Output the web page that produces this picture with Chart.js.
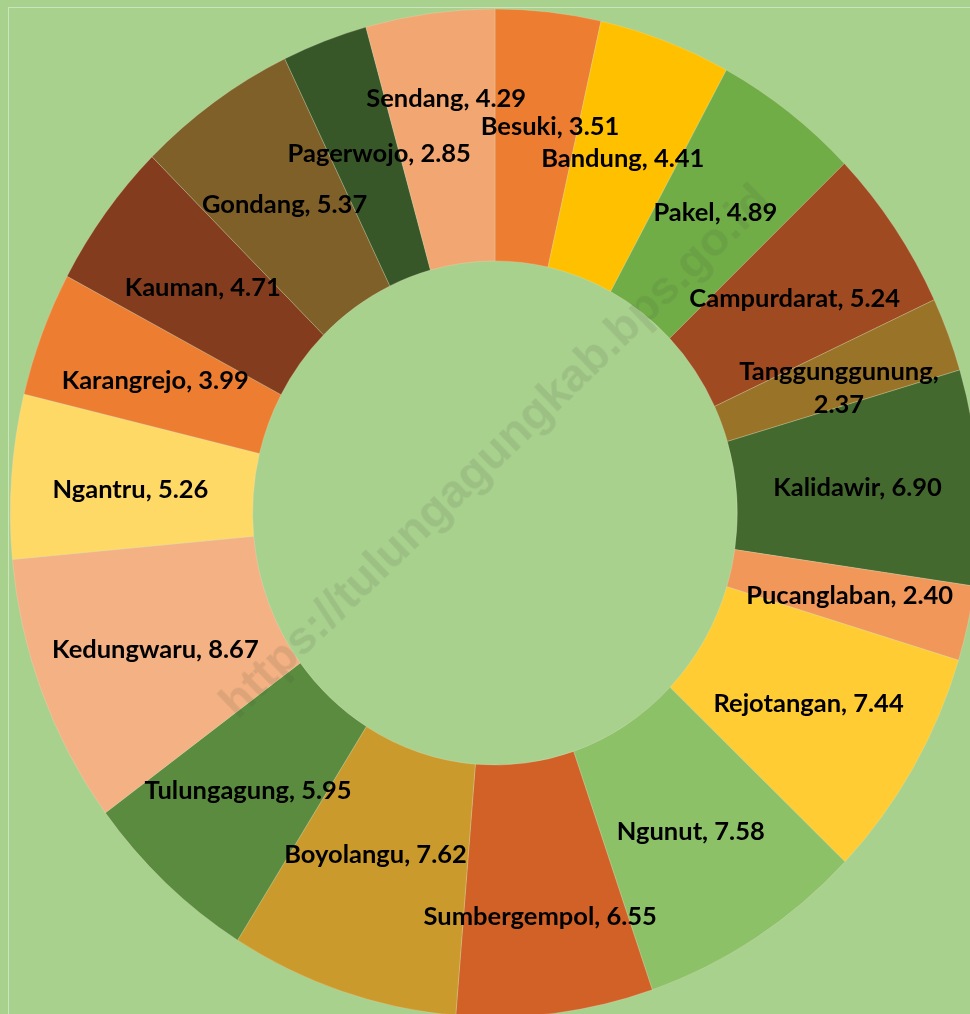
<!DOCTYPE html>
<html>
<head>
<meta charset="utf-8">
<script src="https://cdn.jsdelivr.net/npm/chart.js@4.4.1/dist/chart.umd.min.js"></script>
<style>
  html, body { margin: 0; padding: 0; width: 970px; height: 1014px; overflow: hidden; background: #A9D18E; }
  #wrap { position: relative; width: 970px; height: 1014px; overflow: hidden; }
  #frame { position: absolute; left: 8px; top: 7px; width: 2000px; height: 2000px; border-left: 1px solid #CDE4C0; border-top: 1px solid #CDE4C0; z-index: 0; }
  #c { position: absolute; left: 0; top: 0; z-index: 1; }
  #wm { position: absolute; left: 494px; top: 450px; z-index: 2; transform: translate(-50%, -50%) rotate(-44deg);
        font-family: "Liberation Sans", Arial, sans-serif; font-weight: bold; font-size: 47px; white-space: nowrap;
        color: rgba(70, 75, 55, 0.13); pointer-events: none; }
</style>
</head>
<body>
<div id="wrap">
  <div id="frame"></div>
  <canvas id="c" width="980" height="1014"></canvas>
  <div id="wm">https://tulungagungkab.bps.go.id</div>
</div>
<script>
// ---- data ----
const categories = ["Besuki", "Bandung", "Pakel", "Campurdarat", "Tanggunggunung", "Kalidawir",
  "Pucanglaban", "Rejotangan", "Ngunut", "Sumbergempol", "Boyolangu", "Tulungagung",
  "Kedungwaru", "Ngantru", "Karangrejo", "Kauman", "Gondang", "Pagerwojo", "Sendang"];
const values = [3.51, 4.41, 4.89, 5.24, 2.37, 6.90, 2.40, 7.44, 7.58, 6.55, 7.62, 5.95,
  8.67, 5.26, 3.99, 4.71, 5.37, 2.85, 4.29];
const colors = ["#ED7D31", "#FFC000", "#70AD47", "#A04A22", "#997328", "#44692F",
  "#F1975A", "#FFCD33", "#8CC168", "#D26127", "#CA9A2C", "#5A8B3E",
  "#F4B183", "#FFD966", "#ED7D31", "#843C1E", "#7F6028", "#385729", "#F2A772"];

// ---- label placement tweaks (Excel moves some labels to avoid overlaps) ----
const labelNudge = {
  "Besuki": [15, -10], "Sumbergempol": [0, 29], "Boyolangu": [-5, -17],
  "Kedungwaru": [0, 2], "Pagerwojo": [12, -5], "Sendang": [0, -40],
  "Tanggunggunung": [4, 9], "Ngantru": [-2, 4], "Kalidawir": [0, 2], "Karangrejo": [0, 2]
};
const wrapLabels = new Set(["Tanggunggunung"]);

const SY = 1.04; // the original ring is slightly taller than wide

const stretchPlugin = {
  id: 'stretch',
  beforeDatasetsDraw(chart) {
    const ctx = chart.ctx;
    const el = chart.getDatasetMeta(0).data[0];
    ctx.save();
    ctx.translate(el.x, el.y);
    ctx.scale(1, SY);
    ctx.translate(-el.x, -el.y);
  },
  afterDatasetsDraw(chart) {
    const ctx = chart.ctx;
    ctx.restore();
    const meta = chart.getDatasetMeta(0);
    ctx.save();
    ctx.fillStyle = '#000';
    ctx.font = 'bold 25.5px Lato, "Open Sans", sans-serif';
    ctx.textAlign = 'center';
    ctx.textBaseline = 'middle';
    meta.data.forEach((arc, i) => {
      const p = arc.getProps(['x', 'y', 'startAngle', 'endAngle', 'innerRadius', 'outerRadius'], true);
      const a = (p.startAngle + p.endAngle) / 2;
      const r = (p.innerRadius + p.outerRadius) / 2;
      const name = categories[i];
      const nd = labelNudge[name] || [0, 0];
      const x = p.x + Math.cos(a) * r + nd[0];
      const y = p.y + Math.sin(a) * r * SY + nd[1];
      const v = values[i].toFixed(2);
      if (wrapLabels.has(name)) {
        ctx.fillText(name + ',', x, y - 16);
        ctx.fillText(v, x, y + 17);
      } else {
        ctx.fillText(name + ', ' + v, x, y);
      }
    });
    ctx.restore();
  }
};

new Chart(document.getElementById('c'), {
  type: 'doughnut',
  data: {
    labels: categories,
    datasets: [{
      data: values,
      backgroundColor: colors,
      borderColor: 'rgba(230, 225, 200, 0.45)',
      borderWidth: 0.6
    }]
  },
  options: {
    responsive: false,
    animation: false,
    cutout: '50%',
    layout: { padding: { left: 10, right: 0, top: 28, bottom: 16 } },
    plugins: { legend: { display: false }, tooltip: { enabled: false } }
  },
  plugins: [stretchPlugin]
});
</script>
</body>
</html>
